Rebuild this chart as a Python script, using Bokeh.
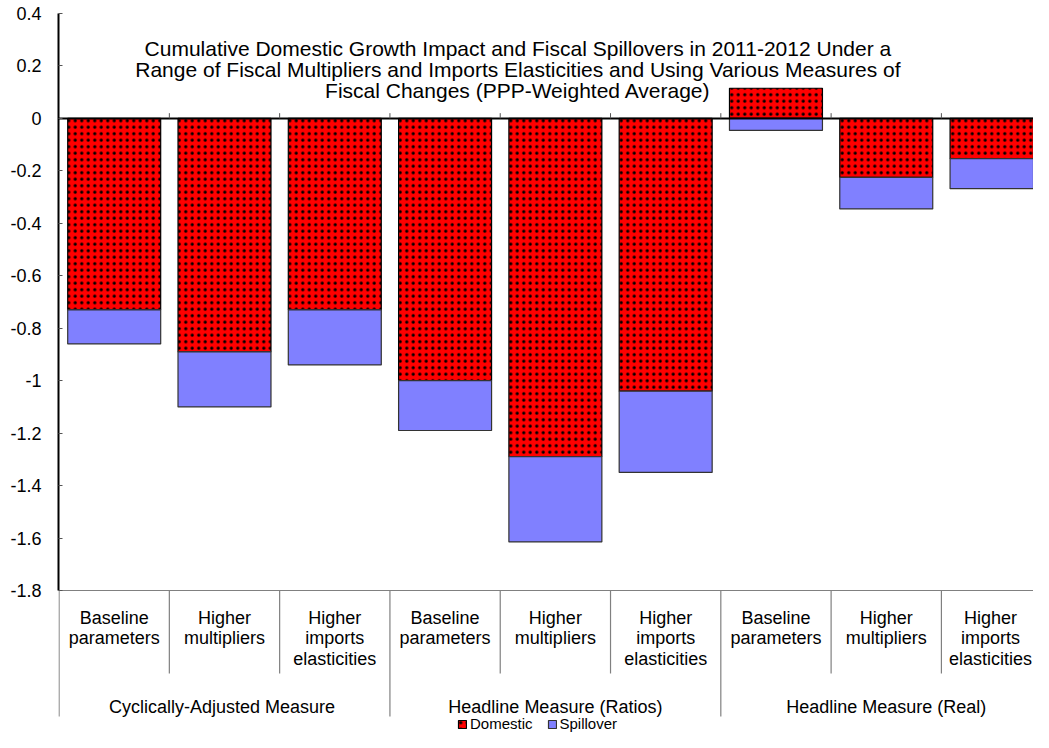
from bokeh.plotting import figure
from bokeh.models import Range1d, FixedTicker, Legend, LegendItem, ColumnDataSource
from bokeh.core.properties import value
from bokeh.embed import file_html
from bokeh.resources import INLINE

# ---------------- data ----------------
CATEGORIES = ["Baseline\nparameters", "Higher\nmultipliers", "Higher\nimports\nelasticities"] * 3
GROUPS = ["Cyclically-Adjusted  Measure", "Headline Measure (Ratios)", "Headline Measure (Real)"]
DOMESTIC = [-0.73, -0.89, -0.73, -1.00, -1.29, -1.04, 0.115, -0.225, -0.153]
SPILLOVER = [-0.13, -0.21, -0.21, -0.19, -0.325, -0.31, -0.046, -0.12, -0.115]
Y_TICKS = [-1.8, -1.6, -1.4, -1.2, -1.0, -0.8, -0.6, -0.4, -0.2, 0.0, 0.2, 0.4]
Y_TICK_LABELS = ["-1.8", "-1.6", "-1.4", "-1.2", "-1", "-0.8", "-0.6", "-0.4", "-0.2", "0", "0.2", "0.4"]
TITLE_LINES = ["Cumulative Domestic Growth Impact and Fiscal Spillovers in 2011-2012 Under a",
               "Range of Fiscal Multipliers and Imports Elasticities and Using Various Measures of",
               "Fiscal Changes (PPP-Weighted Average)"]
SERIES = ["Domestic", "Spillover"]

FONT = value("Liberation Sans")
X_END = 8.835

n = len(DOMESTIC)
xc = [i + 0.5 for i in range(n)]
dom_bottom = [0.0] * n
spill_top = [min(d, 0.0) for d in DOMESTIC]
spill_bottom = [t + s for t, s in zip(spill_top, SPILLOVER)]

src_dom = ColumnDataSource(dict(x=xc, top=DOMESTIC, bottom=dom_bottom))
src_sp = ColumnDataSource(dict(x=xc, top=spill_top, bottom=spill_bottom))

p = figure(width=1033, height=732,
           x_range=Range1d(-0.005, X_END), y_range=Range1d(-2.3415, 0.4),
           output_backend="svg", toolbar_location=None,
           x_axis_location=None,
           min_border_left=58, min_border_right=0, min_border_top=13, min_border_bottom=0)
p.grid.visible = False
p.outline_line_color = None
p.background_fill_color = "white"
p.border_fill_color = "white"

# bars
r_dom = p.vbar(x="x", top="top", bottom="bottom", width=0.843, source=src_dom,
               fill_color="#FF0000", line_color="black", line_width=1.2,
               hatch_pattern="dot", hatch_color="black", hatch_scale=6.5, hatch_weight=1)
r_sp = p.vbar(x="x", top="top", bottom="bottom", width=0.843, source=src_sp,
              fill_color="#8080FF", line_color="#333333", line_width=1.2)

# zero line and bottom line
p.segment(x0=[-0.005], y0=[0], x1=[9], y1=[0], line_color="black", line_width=2)
p.segment(x0=[-0.005], y0=[-1.8], x1=[9], y1=[-1.8], line_color="#808080", line_width=1.2)
# small ticks on the zero line at category boundaries
bx = list(range(1, n))
p.segment(x0=bx, y0=[0] * len(bx), x1=bx, y1=[0.02] * len(bx), line_color="#555555", line_width=1)

# category separators below the plot
inner = [b for b in range(0, n + 1) if b % 3 != 0]
outer = [b for b in range(0, n + 1) if b % 3 == 0]
p.segment(x0=inner, y0=[-1.8] * len(inner), x1=inner, y1=[-2.1165] * len(inner),
          line_color="#808080", line_width=1.2)
p.segment(x0=outer, y0=[-1.8] * len(outer), x1=outer, y1=[-2.2805] * len(outer),
          line_color="#808080", line_width=1.2)

# category labels (last one nudged so it stays inside the canvas)
lx = [min(x, X_END - 0.39) for x in xc]
p.text(x=lx, y=[-1.865] * n, text=CATEGORIES, text_align="center", text_baseline="top",
       text_font=FONT, text_font_size="18px", text_color="black", text_line_height=1.04)
gx = [1.5, 4.5, 7.5]
p.text(x=gx, y=[-2.246] * 3, text=GROUPS, text_align="center", text_baseline="alphabetic",
       text_font=FONT, text_font_size="18px", text_color="black")

# chart title inside plot area (one baseline per line)
p.text(x=[4.16] * 3, y=[0.2654, 0.1846, 0.1045], text=TITLE_LINES,
       text_align="center", text_baseline="alphabetic",
       text_font=FONT, text_font_size="21px", text_color="black")

# y axis
ax = p.yaxis[0]
ax.ticker = FixedTicker(ticks=Y_TICKS)
ax.major_label_overrides = {t: l for t, l in zip(Y_TICKS, Y_TICK_LABELS)}
ax.bounds = (-1.8, 0.4)
ax.minor_tick_line_color = None
ax.major_tick_in = 4
ax.major_tick_out = 0
ax.major_tick_line_color = "#555555"
ax.axis_line_color = "black"
ax.axis_line_width = 2
ax.major_label_text_font = "Liberation Sans"
ax.major_label_text_font_size = "18px"
ax.major_label_text_color = "black"
ax.major_label_standoff = 17

legend = Legend(items=[LegendItem(label=SERIES[0], renderers=[r_dom]),
                       LegendItem(label=SERIES[1], renderers=[r_sp])],
                location=(399, 0), orientation="horizontal",
                label_text_font="Liberation Sans", label_text_font_size="15px",
                label_text_color="black",
                glyph_width=10, glyph_height=10, label_height=10, label_standoff=3,
                spacing=14, padding=0, margin=0,
                border_line_alpha=0, background_fill_alpha=0)
p.add_layout(legend)

open("out.html", "w").write(file_html(p, INLINE))
